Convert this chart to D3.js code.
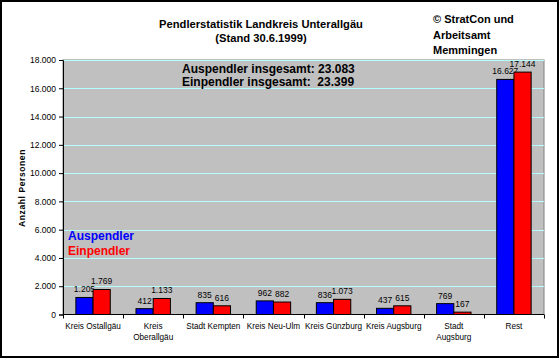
<!DOCTYPE html>
<html><head><meta charset="utf-8">
<script src="https://cdn.jsdelivr.net/npm/d3@7"></script>
<style>body{margin:0;background:#fff}svg{display:block}text{font-family:"Liberation Sans",Arial,sans-serif}</style>
</head><body>
<script>
const categories = [["Kreis Ostallgäu"],["Kreis","Oberallgäu"],["Stadt Kempten"],["Kreis Neu-Ulm"],["Kreis Günzburg"],["Kreis Augsburg"],["Stadt","Augsburg"],["Rest"]];
const auspendler = [1205, 412, 835, 962, 836, 437, 769, 16627];
const einpendler = [1769, 1133, 616, 882, 1073, 615, 167, 17144];
const seriesNames = ["Auspendler", "Einpendler"];
const yTicks = [0,2000,4000,6000,8000,10000,12000,14000,16000,18000];
const titleLines = ["Pendlerstatistik Landkreis Unterallgäu", "(Stand 30.6.1999)"];
const creditLines = ["© StratCon und", "Arbeitsamt", "Memmingen"];
const totalLines = ["Auspendler insgesamt: 23.083", "Einpendler insgesamt:  23.399"];

const W = 560, H = 359;
const m = {l: 63, r: 544, t: 60, b: 314.5};
const fmt = v => d3.format(",")(v).replace(/,/g, ".");
const svg = d3.select("body").append("svg").attr("width", W).attr("height", H);
svg.append("rect").attr("x",1).attr("y",1).attr("width",557).attr("height",356).attr("fill","#fff").attr("stroke","#000").attr("stroke-width",2);

const x0 = d3.scaleBand().domain(d3.range(categories.length)).range([m.l, m.r]).paddingInner(0).paddingOuter(0);
const y = d3.scaleLinear().domain([0, 18000]).range([m.b, m.t]);
const bw = 17.2;
const x1 = d3.scaleBand().domain([0,1]).range([-bw, bw]);

svg.append("rect").attr("x", m.l).attr("y", m.t).attr("width", m.r - m.l).attr("height", m.b - m.t).attr("fill", "#c0c0c0").attr("stroke", "#808080");
svg.append("g").selectAll("line").data(yTicks.slice(1)).join("line")
  .attr("x1", m.l).attr("x2", m.r).attr("y1", d => Math.round(y(d))+0.5).attr("y2", d => Math.round(y(d))+0.5)
  .attr("stroke", "#b4ffff").attr("stroke-width", 1);

const colors = ["#0000ff", "#ff0000"];
const series = [auspendler, einpendler];
series.forEach((vals, si) => {
  const g = svg.append("g");
  g.selectAll("rect").data(vals).join("rect")
    .attr("x", (d,i) => x0(i) + x0.bandwidth()/2 + x1(si))
    .attr("y", d => y(d)).attr("width", bw).attr("height", d => y(0) - y(d))
    .attr("fill", colors[si]).attr("stroke", "#000").attr("stroke-width", 1);
  g.selectAll("text").data(vals).join("text")
    .attr("x", (d,i) => x0(i) + x0.bandwidth()/2 + x1(si) + bw/2)
    .attr("y", d => y(d) - 5).attr("text-anchor", "middle")
    .attr("font-size", 8.5).text(d => fmt(d));
});

// y axis
const ya = svg.append("g").attr("transform", `translate(${m.l},0)`)
  .call(d3.axisLeft(y).tickValues(yTicks).tickFormat(fmt).tickSize(4).tickPadding(3));
ya.select(".domain").attr("stroke", "#000");
ya.selectAll("text").attr("font-size", 8.5).attr("font-family", "Liberation Sans, Arial");
// x axis
const xa = svg.append("g").attr("transform", `translate(0,${m.b})`);
xa.append("line").attr("x1", m.l).attr("x2", m.r).attr("y1", 0).attr("y2", 0).attr("stroke", "#000");
xa.selectAll("line.t").data(d3.range(categories.length + 1)).join("line").attr("class","t")
  .attr("x1", i => Math.round(m.l + i * x0.bandwidth())+0.5).attr("x2", i => Math.round(m.l + i * x0.bandwidth())+0.5)
  .attr("y1", 0).attr("y2", 4).attr("stroke", "#000");
categories.forEach((lines, i) => {
  const t = xa.append("text").attr("x", x0(i) + x0.bandwidth()/2).attr("y", 14).attr("text-anchor", "middle").attr("font-size", 8.2);
  lines.forEach((l, k) => t.append("tspan").attr("x", x0(i) + x0.bandwidth()/2).attr("dy", k ? 11 : 0).text(l));
});

// titles
titleLines.forEach((t, k) => svg.append("text").attr("x", 261).attr("y", 28 + k * 14).attr("text-anchor", "middle")
  .attr("font-size", 11.2).attr("font-weight", "bold").text(t));
creditLines.forEach((t, k) => svg.append("text").attr("x", 433).attr("y", 23 + k * 15.5)
  .attr("font-size", 11).attr("font-weight", "bold").text(t));
totalLines.forEach((t, k) => svg.append("text").attr("x", 182).attr("y", 73 + k * 13).attr("xml:space","preserve").style("white-space","pre")
  .attr("font-size", 12).attr("font-weight", "bold").text(t));
seriesNames.forEach((t, k) => svg.append("text").attr("x", 68).attr("y", 240 + k * 14.5)
  .attr("font-size", 12).attr("font-weight", "bold").attr("fill", colors[k]).text(t));
svg.append("text").attr("transform", "translate(25,188) rotate(-90)").attr("text-anchor", "middle")
  .attr("font-size", 8.5).attr("font-weight", "bold").attr("letter-spacing", 0.6).text("Anzahl Personen");
</script>
</body></html>
